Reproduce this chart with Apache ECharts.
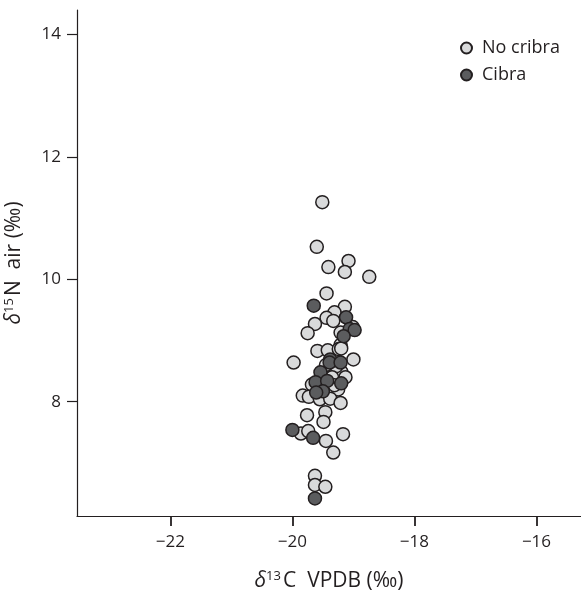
<!DOCTYPE html>
<html>
<head>
<meta charset="utf-8">
<script src="https://cdn.jsdelivr.net/npm/echarts@6/dist/echarts.min.js"></script>
<style>html,body{margin:0;padding:0;background:#fff}#c{width:581px;height:594px}</style>
</head>
<body>
<div id="c"></div>
<script>
const xTicks = [-22, -20, -18, -16];
const yTicks = [8, 10, 12, 14];
const noCribra = [
  [-19.51, 11.26], [-19.60, 10.53], [-19.08, 10.30], [-19.41, 10.20], [-19.14, 10.12],
  [-18.74, 10.04], [-19.44, 9.77], [-19.14, 9.55], [-19.31, 9.46], [-19.44, 9.37],
  [-19.33, 9.32], [-19.63, 9.27], [-19.01, 9.22], [-19.21, 9.13], [-19.75, 9.12],
  [-19.21, 8.93], [-19.59, 8.83], [-19.42, 8.84], [-19.24, 8.86], [-19.20, 8.87],
  [-19.98, 8.64], [-19.00, 8.69], [-19.39, 8.53], [-19.20, 8.49], [-19.13, 8.40],
  [-19.45, 8.60], [-19.28, 8.58], [-19.35, 8.40], [-19.50, 8.22], [-19.25, 8.20],
  [-19.62, 8.18], [-19.68, 8.28], [-19.31, 8.27], [-19.83, 8.10], [-19.73, 8.08],
  [-19.55, 8.04], [-19.38, 8.05], [-19.21, 7.98], [-19.76, 7.78], [-19.46, 7.83],
  [-19.49, 7.67], [-19.86, 7.48], [-19.74, 7.52], [-19.45, 7.36], [-19.17, 7.47],
  [-19.33, 7.17], [-19.63, 6.79], [-19.63, 6.64], [-19.46, 6.61]
];
const cribra = [
  [-19.65, 9.57], [-19.12, 9.38], [-19.06, 9.19], [-18.98, 9.17], [-19.16, 9.07],
  [-19.38, 8.69], [-19.39, 8.64], [-19.21, 8.64], [-19.54, 8.48], [-19.62, 8.32],
  [-19.43, 8.34], [-19.20, 8.30], [-19.50, 8.17], [-19.61, 8.15], [-20.00, 7.54],
  [-19.66, 7.41], [-19.63, 6.42]
];

const FONT = '"Open Sans", "Noto Sans", sans-serif';
const INK = '#231f20';
const chart = echarts.init(document.getElementById('c'));
const fmt = v => String(v).replace('-', '\u2212');
const nameRich = {
  i: { fontSize: 21, fontStyle: 'italic', color: INK, fontFamily: FONT },
  s: { fontSize: 13, verticalAlign: 'top', padding: [0, 2, 9, 0], color: INK, fontFamily: FONT },
  n: { fontSize: 21, color: INK, fontFamily: FONT }
};
chart.setOption({
  animation: false,
  textStyle: { fontFamily: FONT, color: INK },
  grid: { left: 77, right: 0, top: 10, bottom: 78, containLabel: false, outerBoundsMode: 'none' },
  legend: {
    orient: 'vertical', left: 455, top: 34,
    itemWidth: 11, itemHeight: 11, itemGap: 9,
    icon: 'circle',
    textStyle: { fontFamily: FONT, fontSize: 18, color: INK, padding: [0, 0, 0, 5] },
    data: ['No cribra', 'Cibra']
  },
  xAxis: {
    type: 'value', min: -23.53, max: -15.27,
    splitLine: { show: false },
    axisLine: { lineStyle: { color: INK, width: 1.2 } },
    axisTick: { show: true, inside: false, length: 10, lineStyle: { color: INK, width: 1.8 }, customValues: xTicks },
    axisLabel: { customValues: xTicks, formatter: fmt, fontSize: 17, color: INK, margin: 18, fontFamily: FONT },
    name: '{i|δ}{s|13}{n|C  VPDB (‰)}',
    nameLocation: 'middle', nameGap: 54,
    nameTextStyle: { rich: nameRich }
  },
  yAxis: {
    type: 'value', min: 6.133, max: 14.40,
    splitLine: { show: false },
    axisLine: { show: true, lineStyle: { color: INK, width: 1.2 } },
    axisTick: { show: true, inside: false, length: 10, lineStyle: { color: INK, width: 1.2 }, customValues: yTicks },
    axisLabel: { customValues: yTicks, formatter: fmt, fontSize: 17, color: INK, margin: 16, fontFamily: FONT },
    name: '{i|δ}{s|15}{n|N  air (‰)}',
    nameLocation: 'middle', nameGap: 52, nameRotate: 90,
    nameTextStyle: { rich: nameRich }
  },
  series: [
    {
      name: 'No cribra', type: 'scatter', data: noCribra, symbolSize: 13,
      itemStyle: { color: '#d9dadb', borderColor: INK, borderWidth: 1.5, opacity: 1 }
    },
    {
      name: 'Cibra', type: 'scatter', data: cribra, symbolSize: 13,
      itemStyle: { color: '#5b5c5e', borderColor: INK, borderWidth: 1.5, opacity: 1 }
    }
  ]
});
</script>
</body>
</html>
